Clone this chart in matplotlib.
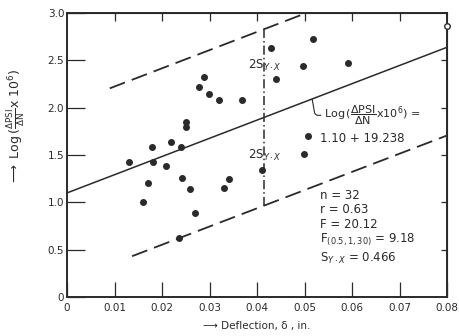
import numpy as np
import matplotlib.pyplot as plt

# data points
defl = [0.0131, 0.0160, 0.0171, 0.0179, 0.0181, 0.0209, 0.0219, 0.0235, 0.0240, 0.0242,
        0.0250, 0.0250, 0.0259, 0.0270, 0.0278, 0.0288, 0.0299, 0.0320, 0.0330, 0.0340,
        0.0369, 0.0410, 0.0430, 0.0440, 0.0499, 0.0497, 0.0507, 0.0518, 0.0592]
log_rate = [1.43, 1.00, 1.21, 1.58, 1.43, 1.38, 1.64, 0.62, 1.58, 1.26,
            1.85, 1.80, 1.14, 0.89, 2.22, 2.33, 2.14, 2.08, 1.15, 1.25,
            2.08, 1.34, 2.63, 2.30, 1.51, 2.44, 1.70, 2.73, 2.47]
open_x = [0.080]
open_y = [2.86]

intercept = 1.10
slope = 19.238
s_yx = 0.466

xticks = [0, 0.01, 0.02, 0.03, 0.04, 0.05, 0.06, 0.07, 0.08]
xticklabels = ['0', '0.01', '0.02', '0.03', '0.04', '0.05', '0.06', '0.07', '0.08']
yticks = [0, 0.5, 1.0, 1.5, 2.0, 2.5, 3.0]
yticklabels = ['0', '0.5', '1.0', '1.5', '2.0', '2.5', '3.0']

fig = plt.figure(figsize=(4.59, 3.36), dpi=100)
ax = fig.add_axes([0.146, 0.116, 0.828, 0.845])
ax.set_xlim(0, 0.08)
ax.set_ylim(0, 3.0)

col = '#2a2a2a'

# regression line and 2S bands
xr = np.array([0, 0.08])
ax.plot(xr, intercept + slope * xr, color=col, lw=1.1)
xu = np.array([0.009, 0.0495])
ax.plot(xu, intercept + slope * xu + 2 * s_yx, color=col, lw=1.3, dashes=(9, 4))
xl = np.array([0.0137, 0.08])
ax.plot(xl, intercept + slope * xl - 2 * s_yx, color=col, lw=1.3, dashes=(9, 4))

# vertical 2S marker
xv = 0.0415
ax.plot([xv, xv], [intercept + slope * xv - 2 * s_yx, intercept + slope * xv + 2 * s_yx],
        color=col, lw=1.1, dashes=(6, 2, 1, 2))
ax.text(xv + 0.0002, 2.45, r'2S$_{Y\cdot X}$', ha='center', va='center', fontsize=8.5, color=col)
ax.text(xv + 0.0002, 1.50, r'2S$_{Y\cdot X}$', ha='center', va='center', fontsize=8.5, color=col)

ax.plot(defl, log_rate, 'o', color=col, ms=4)
ax.plot(open_x, open_y, 'o', mfc='white', mec=col, ms=4, clip_on=False, zorder=5)

# equation label
xa = 0.0516
ax.annotate(r'Log$\,(\dfrac{\mathrm{\Delta PSI}}{\mathrm{\Delta N}}$x10$^6$) =',
            xy=(xa, intercept + slope * xa), xytext=(0.0540, 1.92),
            fontsize=8, color=col, va='center',
            arrowprops=dict(arrowstyle='-', color=col, lw=0.8,
                            connectionstyle='angle,angleA=0,angleB=100,rad=3',
                            shrinkA=0, shrinkB=0))
ax.text(0.0533, 1.68, '1.10 + 19.238', fontsize=8.5, color=col, va='center')

# stats
stats = ['n = 32', 'r = 0.63', 'F = 20.12', r'F$_{(0.5,1,30)}$ = 9.18', r'S$_{Y\cdot X}$ = 0.466']
sy = [1.07, 0.92, 0.77, 0.60, 0.41]
for t, yy in zip(stats, sy):
    ax.text(0.0532, yy, t, fontsize=8.5, color=col, va='center')

ax.set_xticks(xticks)
ax.set_xticklabels(xticklabels)
ax.set_yticks(yticks)
ax.set_yticklabels(yticklabels)
ax.tick_params(axis='x', direction='in', length=11, width=0.9, pad=4, labelsize=7.5, colors=col)
ax.tick_params(axis='y', direction='in', length=13, width=0.9, pad=2, labelsize=7.5, colors=col)
for sp in ax.spines.values():
    sp.set_linewidth(1.4)
    sp.set_color(col)

top = ax.secondary_xaxis('top')
top.set_xticks(xticks[1:-1])
top.tick_params(direction='in', length=6, width=0.9, labeltop=False, colors=col)
right = ax.secondary_yaxis('right')
right.set_yticks(yticks[1:-1])
right.tick_params(direction='in', length=4, width=0.9, labelright=False, colors=col)

ax.set_xlabel('\u27f6 Deflection, \u03b4 , in.', fontsize=7.5, color=col, labelpad=6)
ax.set_ylabel(r'$\longrightarrow$ Log$\,(\frac{\mathrm{\Delta PSI}}{\mathrm{\Delta N}}$x 10$^6$)',
              fontsize=9, color=col)
ax.yaxis.set_label_coords(-0.105, 0.6)

fig.savefig('out.png', dpi=100, facecolor='white')
